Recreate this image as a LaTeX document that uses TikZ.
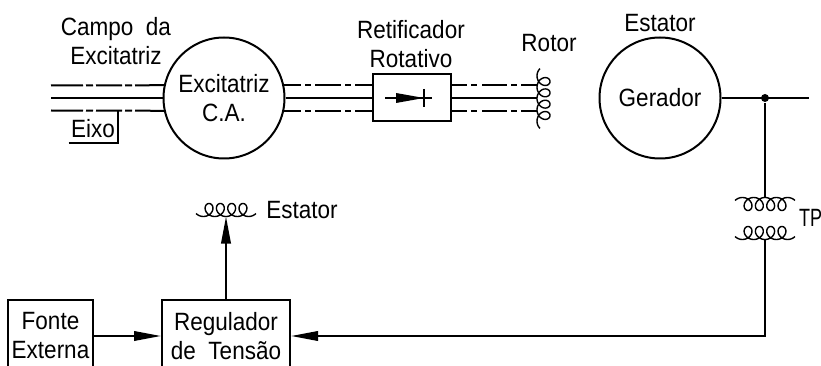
\documentclass[tikz,border=0pt]{standalone}
\usepackage{fontspec}
\setmainfont[FakeStretch=0.9]{Liberation Sans}
\newfontfamily\tpfont[FakeStretch=0.72]{Liberation Sans}
\usetikzlibrary{arrows.meta}

\begin{document}
\begin{tikzpicture}[x=1pt,y=-1pt,line width=2pt,
  font=\fontsize{25}{29}\selectfont,
  lbl/.style={align=center,inner sep=0pt},
  machine/.style={circle,draw,minimum size=121pt,inner sep=0pt,align=center},
  block/.style={draw,align=center,inner sep=0pt},
  sig/.style={-{Triangle[length=27pt,width=9.5pt]}},
  shaftl/.style={dash pattern=on 32pt off 3pt on 7pt off 3pt on 26pt off 3pt on 7pt off 3pt on 60pt},
  shaftm/.style={dash pattern=on 17pt off 4pt on 6pt off 4pt on 26pt off 4pt on 6pt off 4pt on 40pt},
  shaftr/.style={dash pattern=on 15pt off 4pt on 6pt off 5pt on 25pt off 4pt on 6pt off 4pt on 30pt},
  coil/.pic={
    \draw[line width=1.4pt] plot[smooth,domain=-4.14:22.99,samples=140,variable=\t]
      ({1.8*(\t-9.42)-6.5*sin(\t r)},{-6.5*cos(\t r)});
    \coordinate (-tap) at (0,6.5);
  }]
  \clip (0,0) rectangle (821,366);
  % machines
  \node[machine] (exc) at (224,98) {Excitatriz\\C.A.};
  \node[machine] (ger) at (660,98) {Gerador};
  \node[block,minimum width=78pt,minimum height=47pt] (ret) at (412,98) {};
  \node[block,minimum width=85pt,minimum height=72pt] (fonte) at (50.5,336) {Fonte\\Externa};
  \node[block,minimum width=128pt,minimum height=72pt] (reg) at (226,336) {Regulador\\de\ \ Tensão};
  % windings
  \pic (rotor) [rotate=-90] at (543.5,98.5) {coil};
  \pic (estcoil) at (226,210) {coil};
  \pic (tpa) [yscale=-1] at (765,204) {coil};
  \pic (tpb) at (765,233) {coil};
  % shaft lines
  \coordinate (in1) at (51,85.5);
  \coordinate (in2) at (51,98);
  \coordinate (in3) at (51,110.5);
  \coordinate (rot) at (537,98);
  \draw[shaftl] (in1) -- (exc.168);
  \draw (in2) -- (exc.west);
  \draw[shaftl] (in3) -- (exc.192);
  \draw[shaftm] (exc.12) -- (exc.12 -| ret.west);
  \draw (exc.east) -- (ret.west);
  \draw[shaftm] (exc.-12) -- (exc.-12 -| ret.west);
  \draw[shaftr] (exc.12 -| ret.east) -- (exc.12 -| rot);
  \draw (ret.east) -- (rot);
  \draw[shaftr] (exc.-12 -| ret.east) -- (exc.-12 -| rot);
  % diode
  \draw (385,98) -- (432,98);
  \fill (396,93) -- (424,98) -- (396,103) -- cycle;
  \draw (423.5,89) -- (423.5,107);
  % eixo
  \node[lbl,minimum width=47pt,minimum height=26pt] (eixo) at (93,129) {Eixo};
  \draw (eixo.south west) -- (eixo.south east) -- (eixo.east |- exc.192);
  % output and TP
  \coordinate (out) at (809,98);
  \draw (ger.east) -- (out);
  \node[circle,fill=black,inner sep=0pt,minimum size=8pt] (jun) at (765,98) {};
  \draw (jun) -- (tpa-tap);
  \draw[sig] (tpb-tap) |- (reg.east);
  \draw[sig] (fonte.east) -- (reg.west);
  \draw[sig] (reg.north) -- (estcoil-tap);
  % labels
  \node[lbl] (campo) at (116,41) {Campo\ \ da\\Excitatriz};
  \node[lbl] (retlbl) at (411,44) {Retificador\\Rotativo};
  \node[lbl] (rotlbl) at (549,43) {Rotor};
  \node[lbl] (estlbl) at (660,23) {Estator};
  \node[lbl] (estlblb) at (302,210) {Estator};
  \node[lbl,anchor=west,font=\fontsize{25}{29}\tpfont] (tplbl) at (798,218) {TP};
\end{tikzpicture}
\end{document}
